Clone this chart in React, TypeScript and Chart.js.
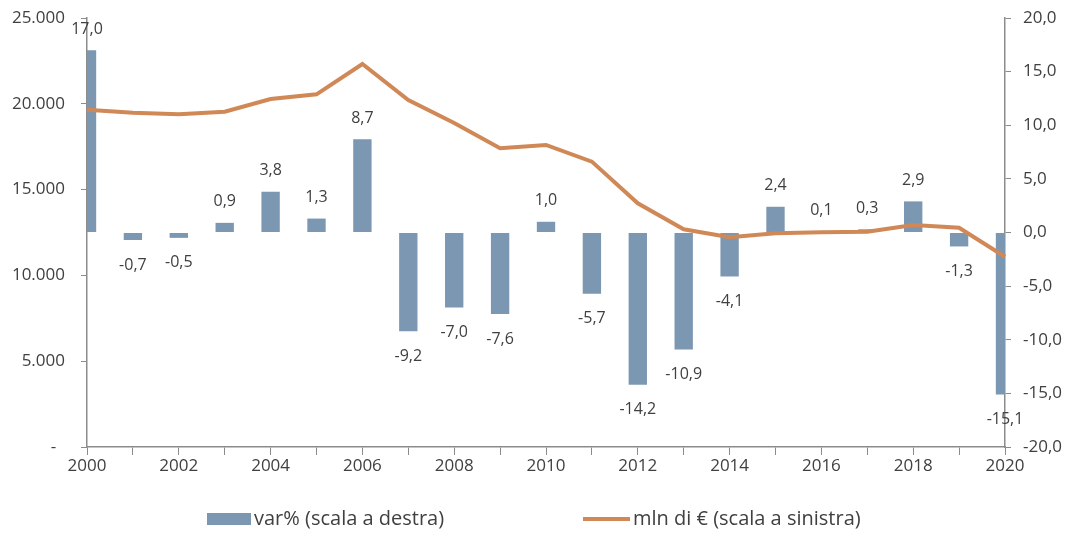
import React, { useEffect, useRef } from "react";
import { Chart, registerables } from "chart.js";

Chart.register(...registerables);

const years = [
  "2000", "2001", "2002", "2003", "2004", "2005", "2006", "2007", "2008", "2009", "2010",
  "2011", "2012", "2013", "2014", "2015", "2016", "2017", "2018", "2019", "2020",
];
const varPct = [
  17.0, -0.7, -0.5, 0.9, 3.8, 1.3, 8.7, -9.2, -7.0, -7.6, 1.0,
  -5.7, -14.2, -10.9, -4.1, 2.4, 0.1, 0.3, 2.9, -1.3, -15.1,
];
const mlnEuro = [
  19650, 19480, 19390, 19540, 20280, 20550, 22320, 20220, 18880, 17410, 17600,
  16630, 14200, 12690, 12220, 12450, 12510, 12550, 12940, 12780, 11090,
];
const barLabel = "var% (scala a destra)";
const lineLabel = "mln di € (scala a sinistra)";

const BAR_COLOR = "rgb(124,151,178)";
const LINE_COLOR = "rgb(208,136,86)";
const TEXT_COLOR = "#404040";
const AXIS_COLOR = "#8c8c8c";
const FONT = "'Open Sans', sans-serif";

const fmtIt = (v: number, dec: number) => {
  const s = Math.abs(v).toFixed(dec);
  const [i, d] = s.split(".");
  const ip = i.replace(/\B(?=(\d{3})+(?!\d))/g, ".");
  return (v < 0 ? "-" : "") + ip + (d ? "," + d : "");
};

const dataLabelPlugin = {
  id: "barDataLabels",
  afterDatasetsDraw(chart: any) {
    const ctx = chart.ctx;
    const meta = chart.getDatasetMeta(0);
    ctx.save();
    ctx.font = `16px ${FONT}`;
    ctx.fillStyle = TEXT_COLOR;
    ctx.textAlign = "center";
    ctx.textBaseline = "middle";
    meta.data.forEach((bar: any, i: number) => {
      const v = varPct[i];
      const y = v >= 0 ? bar.y - 21 : bar.y + 25;
      ctx.fillText(fmtIt(v, 1), bar.x, y);
    });
    ctx.restore();
  },
};

const legendPlugin = {
  id: "customLegend",
  afterDraw(chart: any) {
    const ctx = chart.ctx;
    const cy = 519;
    ctx.save();
    ctx.font = `20px ${FONT}`;
    ctx.textBaseline = "middle";
    ctx.textAlign = "left";
    ctx.fillStyle = BAR_COLOR;
    ctx.fillRect(207, cy - 6, 44, 12);
    ctx.fillStyle = TEXT_COLOR;
    ctx.fillText(barLabel, 254, cy);
    ctx.strokeStyle = LINE_COLOR;
    ctx.lineWidth = 4;
    ctx.beginPath();
    ctx.moveTo(583, cy);
    ctx.lineTo(630, cy);
    ctx.stroke();
    ctx.fillText(lineLabel, 633, cy);
    ctx.restore();
  },
};

export default function App() {
  const ref = useRef<HTMLCanvasElement | null>(null);

  useEffect(() => {
    if (!ref.current) return;
    const chart = new Chart(ref.current, {
      data: {
        labels: years,
        datasets: [
          {
            type: "bar",
            label: barLabel,
            data: varPct,
            yAxisID: "y1",
            backgroundColor: BAR_COLOR,
            categoryPercentage: 0.4,
            barPercentage: 1,
            clip: 0,
            order: 2,
          } as any,
          {
            type: "line",
            label: lineLabel,
            data: mlnEuro,
            yAxisID: "y",
            borderColor: LINE_COLOR,
            borderWidth: 4,
            pointRadius: 0,
            tension: 0,
            fill: false,
            order: 1,
          } as any,
        ],
      },
      options: {
        animation: false,
        responsive: true,
        maintainAspectRatio: false,
        layout: { padding: { top: 18, bottom: 50, left: 0, right: 0 } },
        plugins: {
          legend: { display: false },
          tooltip: { enabled: false },
        },
        scales: {
          x: {
            type: "category",
            offset: false,
            grid: {
              offset: false,
              drawOnChartArea: false,
              drawTicks: true,
              tickLength: 8,
              color: AXIS_COLOR,
            },
            border: { display: true, color: AXIS_COLOR, width: 1.5 },
            ticks: {
              autoSkip: false,
              maxRotation: 0,
              color: TEXT_COLOR,
              font: { family: FONT, size: 17 },
              padding: 1,
              callback: (_v: any, i: number) => (i % 2 === 0 ? years[i] : ""),
            },
            afterFit: (s: any) => {
              s.height = 36;
            },
          },
          y: {
            type: "linear",
            position: "left",
            min: 0,
            max: 25000,
            grid: {
              drawOnChartArea: false,
              drawTicks: true,
              tickLength: 6,
              color: AXIS_COLOR,
            },
            border: { display: true, color: AXIS_COLOR, width: 1.5 },
            ticks: {
              stepSize: 5000,
              color: TEXT_COLOR,
              font: { family: FONT, size: 17 },
              padding: 16,
              callback: (v: any) => (v === 0 ? "-  " : fmtIt(Number(v), 0)),
            },
            afterFit: (s: any) => {
              s.width = 87;
              s.paddingTop = 0;
              s.paddingBottom = 0;
            },
          },
          y1: {
            type: "linear",
            position: "right",
            min: -20,
            max: 20,
            grid: {
              drawOnChartArea: false,
              drawTicks: true,
              tickLength: 6,
              color: AXIS_COLOR,
            },
            border: { display: true, color: AXIS_COLOR, width: 1.5 },
            ticks: {
              stepSize: 5,
              color: TEXT_COLOR,
              font: { family: FONT, size: 17 },
              padding: 12,
              callback: (v: any) => fmtIt(Number(v), 1),
            },
            afterFit: (s: any) => {
              s.width = 66;
              s.paddingTop = 0;
              s.paddingBottom = 0;
            },
          },
        },
      },
      plugins: [dataLabelPlugin, legendPlugin],
    } as any);
    return () => chart.destroy();
  }, []);

  return (
    <div style={{ position: "absolute", left: 0, top: 0, width: 1071, height: 533 }}>
      <canvas ref={ref} />
    </div>
  );
}
